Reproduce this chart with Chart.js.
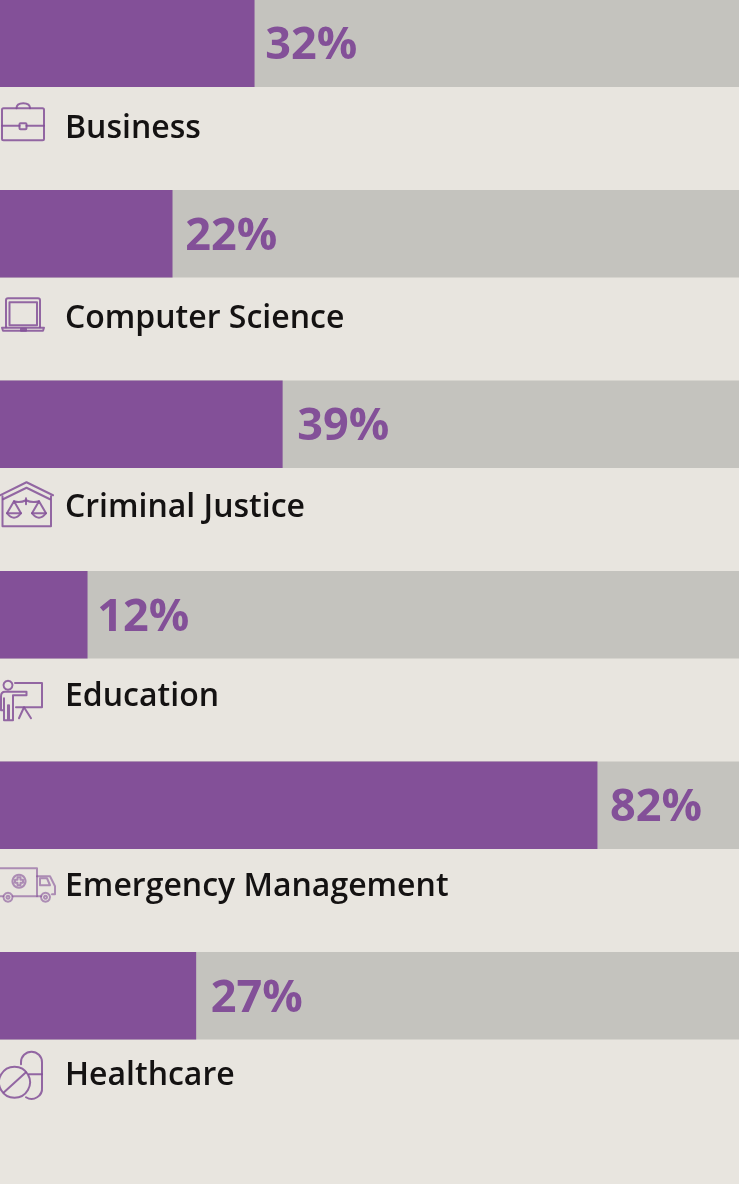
<!DOCTYPE html>
<html><head><meta charset="utf-8">
<style>html,body{margin:0;padding:0;background:#e8e5df;overflow:hidden;width:739px;height:1184px}
#w{position:absolute;left:0;top:-52px;width:739px;height:1236px}</style>
<script src="https://cdn.jsdelivr.net/npm/chart.js@4"></script></head>
<body><div id="w"><canvas id="c"></canvas></div>
<script>
const categories=["Business","Computer Science","Criminal Justice","Education","Emergency Management","Healthcare"];
const valueLabels=["32%","22%","39%","12%","82%","27%"];
const barLengths=[34.4,23.3,38.2,11.8,80.8,26.5];
const trackValues=[100,100,100,100,100,100];
const PURPLE="#835098",TRACK="#c4c3be",INK="#141212";
const valueGaps=[11,13,15,10,13,15];
const nameDrop=[86,85,84,82,82,80];
const iconRows=[43,233.5,424,614.5,805,995.5];
const iconAlpha=[.85,.85,.85,.85,.6,.85];
const icons=[
 ["M3.500 108H42.500Q44 108 44 109.500V138.500Q44 140 42.500 140H3.500Q2 140 2 138.500V109.500Q2 108 3.500 108Z","M16.500 108Q16.500 103 23.300 103Q30 103 30 108","M2 125.500H19.500M26.500 125.500H44","M20.500 123H25.500Q26.500 123 26.500 124V128Q26.500 129 25.500 129H20.500Q19.500 129 19.500 128V124Q19.500 123 20.500 123Z"],
 ["M6 327V300Q6 298 8 298H38Q40 298 40 300V327","M9.500 302H37V325H9.500Z","M2 327.500H44L43 330.500H3Z","M21 328.500H26V330.500H21Z"],
 ["M0 495L26.500 482L53 495","M3 499L26.500 487.500L50 499","M2.500 496V526H51V496","M26 498V504","M14 501Q20 503 26 500Q32 503 39 501","M14 501L7 513M14 501L21 513M39 501L32 513M39 501L46 513","M7 513Q14 522 21 513Z","M32 513Q39 522 46 513Z"],
 ["M8 680.500A4.500 4.500 0 1 1 7.999 680.500Z","M15 682.700H42V707H16","M26.500 691.500H5Q1 691.500 1 696V710H4M4 698V720H8V705M9 705V720H13V695H26.500V691.500","M24 707L19 718M24 707L31 718"],
 ["M0 868H37V896H13M3 896H0","M19 874.500A6.500 6.500 0 1 1 18.999 874.500Z","M17.500 877H20.500V879.500H23V882.500H20.500V885H17.500V882.500H15V879.500H17.500Z","M37 876H50L55 886V894H52M37 896H41","M40 878H47L50 885H40Z","M8 892.500A4.500 4.500 0 1 1 7.999 892.500Z","M8 895.500A1.500 1.500 0 1 1 7.999 895.500Z","M45.500 892.500A4.500 4.500 0 1 1 45.499 892.500Z","M45.500 895.500A1.500 1.500 0 1 1 45.499 895.500Z"],
 ["M14.500 1066.500A15.500 15.500 0 1 1 14.499 1066.500Z","M4 1092L26 1072","M21 1064V1062A10.500 10.500 0 0 1 42 1062V1087A10.500 10.500 0 0 1 26 1097","M29 1074H42"]
];
const decor={id:"decor",afterDatasetsDraw(ch){
 const c=ch.ctx,y=ch.scales.y,m=ch.getDatasetMeta(0);
 c.save();
 c.textBaseline="middle";c.textAlign="left";
 c.fillStyle=PURPLE;c.font='700 45px "Open Sans"';
 m.data.forEach((b,i)=>c.fillText(valueLabels[i],b.x+valueGaps[i],b.y+3));
 c.fillStyle=INK;c.font='600 32px "Open Sans"';
 categories.forEach((t,i)=>c.fillText(t,65,y.getPixelForValue(i)+nameDrop[i]));
 c.strokeStyle=PURPLE;c.lineWidth=2;c.lineJoin="round";c.lineCap="round";
 icons.forEach((paths,i)=>{c.save();c.globalAlpha=iconAlpha[i];c.translate(0,y.getPixelForValue(i)-iconRows[i]);
   paths.forEach(d=>c.stroke(new Path2D(d)));c.restore();});
 c.restore();
}};
new Chart(document.getElementById("c"),{
 type:"bar",
 data:{labels:categories,datasets:[
  {label:"Share",data:barLengths,backgroundColor:PURPLE,grouped:false,barThickness:87,order:1},
  {label:"Track",data:trackValues,backgroundColor:TRACK,grouped:false,barThickness:87,order:2}
 ]},
 options:{indexAxis:"y",responsive:true,maintainAspectRatio:false,animation:false,
  layout:{padding:{left:0,right:0,top:0,bottom:93}},
  plugins:{legend:{display:false},tooltip:{enabled:false}},
  scales:{
   x:{display:false,min:0,max:100,grid:{display:false}},
   y:{position:"left",grid:{display:false},border:{display:false},ticks:{display:false},
      afterFit(s){s.width=0;s.paddingTop=0;s.paddingBottom=0;s.paddingLeft=0;s.paddingRight=0;}}
  }},
 plugins:[decor]
});
</script></body></html>
